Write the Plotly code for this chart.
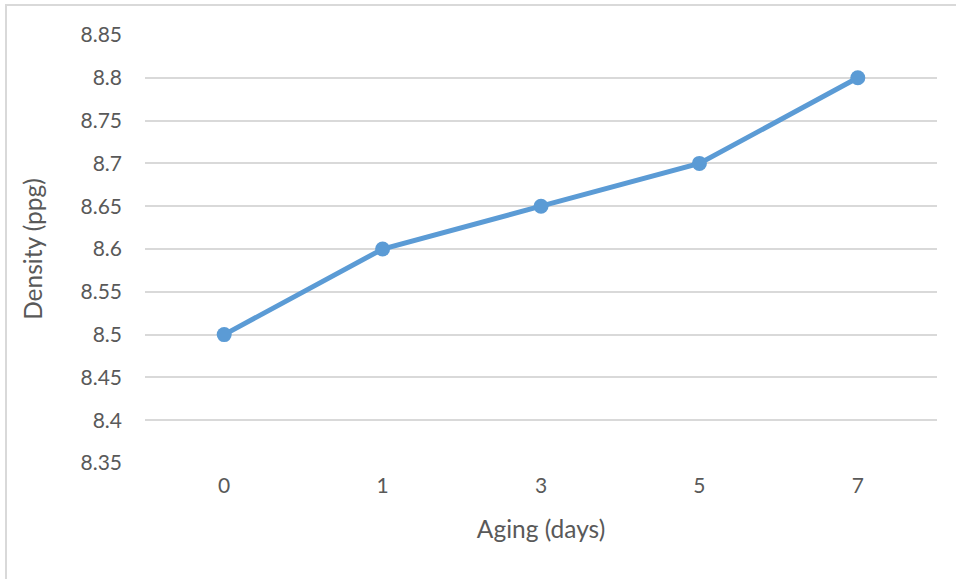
import plotly.graph_objects as go

# Drilling fluid density vs. aging time
aging_days = ["0", "1", "3", "5", "7"]
density_ppg = [8.5, 8.6, 8.65, 8.7, 8.8]
y_ticks = [8.35, 8.4, 8.45, 8.5, 8.55, 8.6, 8.65, 8.7, 8.75, 8.8, 8.85]
y_tick_text = ["8.35", "8.4", "8.45", "8.5", "8.55", "8.6", "8.65", "8.7", "8.75", "8.8", "8.85"]

blue = "#5B9BD5"
grid = "#D9D9D9"
text_col = "#595959"
font_family = "Lato, Open Sans, sans-serif"

fig = go.Figure(
    go.Scatter(
        x=aging_days,
        y=density_ppg,
        mode="lines+markers",
        line=dict(color=blue, width=5),
        marker=dict(color=blue, size=15),
        showlegend=False,
        cliponaxis=False,
    )
)

fig.update_layout(
    width=956,
    height=579,
    margin=dict(l=145, r=19, t=35, b=116),
    paper_bgcolor="white",
    plot_bgcolor="white",
    font=dict(family=font_family, color=text_col, size=21),
    shapes=[
        dict(
            type="rect", xref="paper", yref="paper",
            x0=-0.1755, x1=1.1, y0=-1.0, y1=1.070,
            line=dict(color=grid, width=2), fillcolor="rgba(0,0,0,0)", layer="below",
        )
    ],
)

fig.update_xaxes(
    type="category",
    range=[-0.5, 4.5],
    showgrid=False,
    showline=False,
    zeroline=False,
    ticks="",
    ticklabelstandoff=8,
    tickfont=dict(size=21, color=text_col),
    title=dict(text="Aging (days)", font=dict(size=24.5, color=text_col), standoff=24),
)

fig.update_yaxes(
    range=[8.35, 8.85],
    tickvals=y_ticks,
    ticktext=y_tick_text,
    showgrid=True,
    gridcolor=grid,
    gridwidth=1.5,
    zeroline=False,
    showline=False,
    ticks="",
    ticklabelstandoff=22,
    tickfont=dict(size=21, color=text_col),
    title=dict(text="Density (ppg)", font=dict(size=24.5, color=text_col), standoff=30),
)

fig.write_html("out.html")
